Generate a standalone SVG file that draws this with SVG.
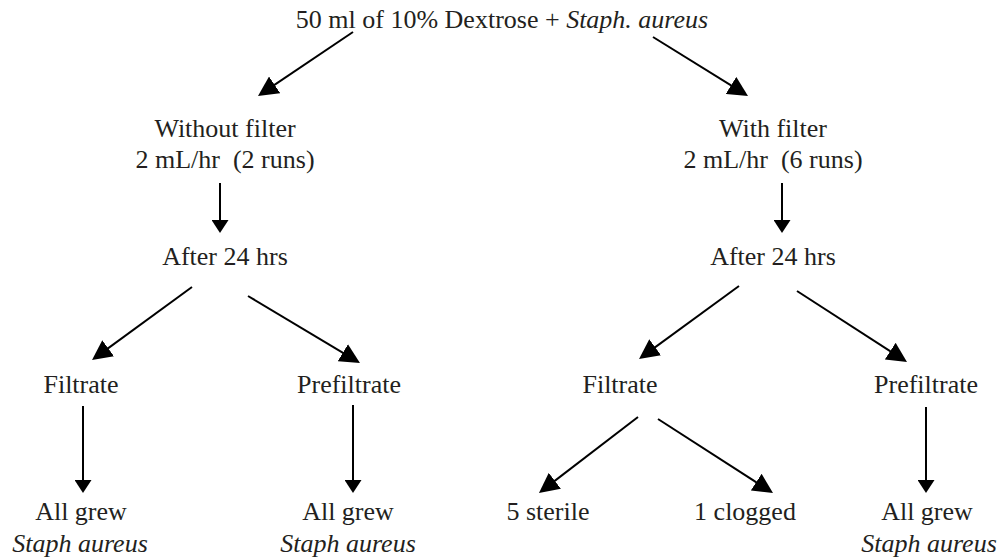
<svg xmlns="http://www.w3.org/2000/svg" width="1000" height="558" viewBox="0 0 1000 558">
<style>
text{font-family:"Liberation Serif","Times New Roman",serif;font-size:26px;fill:#231f20;text-anchor:middle;white-space:pre}
.it{font-style:italic}
.c line{stroke:#000;stroke-width:2}
.big{marker-end:url(#ah)}
.sm{marker-end:url(#as)}
</style>
<defs>
<marker id="ah" viewBox="0 0 20 20" refX="10" refY="10" markerWidth="20" markerHeight="20" markerUnits="userSpaceOnUse" orient="auto"><path d="M0,0 L20,10 L0,20 z" fill="#000"/></marker>
<marker id="as" viewBox="0 0 13 17" refX="6.5" refY="8.5" markerWidth="13" markerHeight="17" markerUnits="userSpaceOnUse" orient="auto"><path d="M0,0 L13,8.5 L0,17 z" fill="#000"/></marker>
</defs>
<rect width="1000" height="558" fill="#fff"/>
<g id="connectors" class="c">
<line class="big" x1="353" y1="32" x2="266.3" y2="90.4"/>
<line class="big" x1="653" y1="37" x2="739.5" y2="90.7"/>
<line class="sm" x1="220" y1="183" x2="220" y2="226.5"/>
<line class="sm" x1="782" y1="183" x2="782" y2="226.5"/>
<line class="big" x1="192" y1="287" x2="100.1" y2="354.1"/>
<line class="big" x1="248" y1="296" x2="351.4" y2="357.9"/>
<line class="big" x1="739" y1="286" x2="647.1" y2="353.1"/>
<line class="big" x1="797" y1="291" x2="898.6" y2="356.6"/>
<line class="sm" x1="83" y1="406" x2="83" y2="486.5"/>
<line class="sm" x1="353" y1="405" x2="353" y2="486.5"/>
<line class="sm" x1="926" y1="407" x2="926" y2="486.5"/>
<line class="big" x1="638" y1="417" x2="546.9" y2="486.9"/>
<line class="big" x1="658" y1="419" x2="764.6" y2="487.6"/>
</g>
<g id="root"><text x="502" y="28">50 ml of 10% Dextrose + <tspan class="it">Staph. aureus</tspan></text></g>
<g id="without"><text x="225" y="137">Without filter</text><text x="225" y="168">2 mL/hr  (2 runs)</text></g>
<g id="with"><text x="773" y="137">With filter</text><text x="773" y="168">2 mL/hr  (6 runs)</text></g>
<g id="after-left"><text x="225" y="265">After 24 hrs</text></g>
<g id="after-right"><text x="773" y="265">After 24 hrs</text></g>
<g id="filtrate-left"><text x="81" y="393">Filtrate</text></g>
<g id="prefiltrate-left"><text x="349" y="393">Prefiltrate</text></g>
<g id="filtrate-right"><text x="620" y="393">Filtrate</text></g>
<g id="prefiltrate-right"><text x="926" y="393">Prefiltrate</text></g>
<g id="grew-1"><text x="81" y="520">All grew</text><text class="it" x="80" y="552">Staph aureus</text></g>
<g id="grew-2"><text x="348" y="520">All grew</text><text class="it" x="348" y="552">Staph aureus</text></g>
<g id="sterile"><text x="548" y="520">5 sterile</text></g>
<g id="clogged"><text x="745" y="520">1 clogged</text></g>
<g id="grew-3"><text x="927" y="520">All grew</text><text class="it" x="929" y="552">Staph aureus</text></g>
</svg>
